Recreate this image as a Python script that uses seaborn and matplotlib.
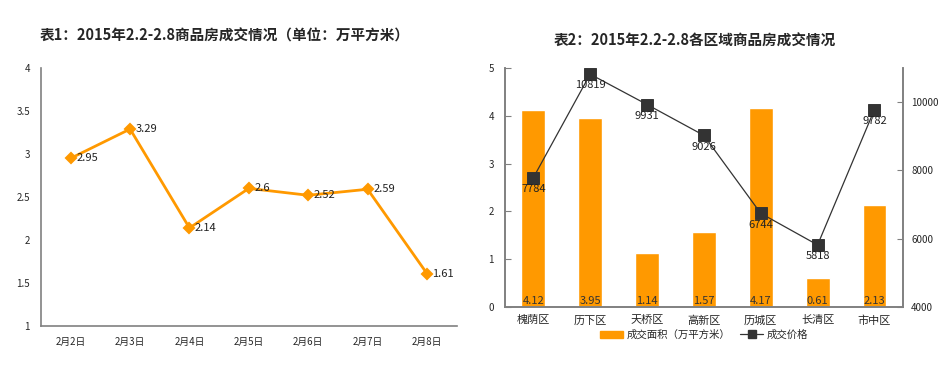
import pandas as pd
import seaborn as sns
from matplotlib import pyplot as plt
from matplotlib.lines import Line2D
from matplotlib.patches import Patch

# data
days = ["2月2日", "2月3日", "2月4日", "2月5日", "2月6日", "2月7日", "2月8日"]
day_area = [2.95, 3.29, 2.14, 2.6, 2.52, 2.59, 1.61]
day_labels = ["2.95", "3.29", "2.14", "2.6", "2.52", "2.59", "1.61"]

districts = ["槐荫区", "历下区", "天桥区", "高新区", "历城区", "长清区", "市中区"]
dist_area = [4.12, 3.95, 1.14, 1.57, 4.17, 0.61, 2.13]
dist_price = [7784, 10819, 9931, 9026, 6744, 5818, 9782]

sns.set_style("white")
plt.rcParams['font.family'] = ['Noto Sans CJK SC', 'DejaVu Sans']

orange = "#FF9900"
dark = "#333333"
axis_col = "#808080"

fig = plt.figure(figsize=(9.49, 3.72), dpi=100)

# ---------- chart 1 ----------
ax1 = fig.add_axes([0.0432, 0.1237, 0.438, 0.6935])
df1 = pd.DataFrame({"day": days, "area": day_area})
sns.pointplot(data=df1, x="day", y="area", ax=ax1, color=orange, markers="D",
              linewidth=2.0, markersize=5)
ax1.set_xlim(-0.5, 6.5)
ax1.set_ylim(1, 4)
ax1.set_yticks([1, 1.5, 2, 2.5, 3, 3.5, 4])
ax1.set_yticklabels(["1", "1.5", "2", "2.5", "3", "3.5", "4"])
ax1.set_xticks([i + 0.5 for i in range(6)], minor=True)
ax1.set_xticks(range(7))
ax1.set_xticklabels(days)
ax1.tick_params(axis="x", which="major", length=0, labelsize=7, pad=8)
ax1.tick_params(axis="x", which="minor", direction="in", length=4, color=axis_col)
ax1.tick_params(axis="y", direction="in", length=4, color=axis_col, labelsize=7, pad=8)
for i, v in enumerate(day_area):
    ax1.annotate(day_labels[i], (i, v), xytext=(4, 0), textcoords="offset points",
                 va="center", ha="left", fontsize=8, color="#222222")
ax1.set_xlabel("")
ax1.set_ylabel("")
for s in ["top", "right"]:
    ax1.spines[s].set_visible(False)
for s in ["left", "bottom"]:
    ax1.spines[s].set_color(axis_col)
    ax1.spines[s].set_linewidth(1.2)
fig.text(0.237, 0.905, "表1：2015年2.2-2.8商品房成交情况（单位：万平方米）",
         ha="center", va="center", fontsize=10.5, fontweight="bold")

# ---------- chart 2 ----------
ax2 = fig.add_axes([0.532, 0.1747, 0.4194, 0.6425])
df2 = pd.DataFrame({"district": districts, "area": dist_area, "price": dist_price})
sns.barplot(data=df2, x="district", y="area", ax=ax2, color=orange, width=0.42,
            saturation=1)
ax2.set_xlim(-0.5, 6.5)
ax2.set_ylim(0, 5)
ax2.set_xticks([i + 0.5 for i in range(6)], minor=True)
ax2.tick_params(axis="x", which="major", length=0, labelsize=8, pad=6)
ax2.tick_params(axis="x", which="minor", direction="in", length=4, color=axis_col)
ax2.tick_params(axis="y", direction="in", length=4, color=axis_col, labelsize=7, pad=8)
for i, v in enumerate(dist_area):
    ax2.text(i, 0.03, f"{v:.2f}", ha="center", va="bottom", fontsize=8, color="#333333")
ax2.set_xlabel("")
ax2.set_ylabel("")
ax2.spines["top"].set_visible(False)
for s in ["left", "bottom", "right"]:
    ax2.spines[s].set_color(axis_col)
    ax2.spines[s].set_linewidth(1.2)

ax3 = ax2.twinx()
sns.pointplot(data=df2, x="district", y="price", ax=ax3, color=dark, markers="s",
              linewidth=0.9, markersize=8)
ax3.set_ylim(4000, 11000)
ax3.set_yticks([4000, 6000, 8000, 10000])
ax3.tick_params(axis="y", direction="in", length=4, color=axis_col, labelsize=7, pad=6)
for i, v in enumerate(dist_price):
    ax3.annotate(str(v), (i, v), xytext=(0, -4.5), textcoords="offset points",
                 va="top", ha="center", fontsize=8, color="#222222", zorder=5)
ax3.set_ylabel("")
ax3.spines["top"].set_visible(False)
for s in ["left", "bottom", "right"]:
    ax3.spines[s].set_color(axis_col)
    ax3.spines[s].set_linewidth(1.2)

handles = [Patch(color=orange, label="成交面积（万平方米）"),
           Line2D([0], [0], color=dark, lw=0.9, marker="s", markersize=6,
                  label="成交价格")]
fig.legend(handles=handles, loc="center", bbox_to_anchor=(0.742, 0.1), ncol=2,
           frameon=False, fontsize=7.5, handlelength=2.2, handletextpad=0.3,
           columnspacing=1.0)
fig.text(0.732, 0.89, "表2：2015年2.2-2.8各区域商品房成交情况",
         ha="center", va="center", fontsize=10.5, fontweight="bold")

plt.savefig("out.png", dpi=100)
plt.close()
